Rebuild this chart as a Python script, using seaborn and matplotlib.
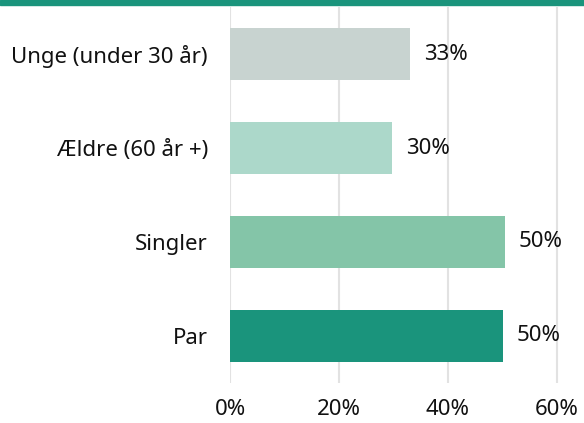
import pandas as pd
import matplotlib.pyplot as plt
import seaborn as sns
from matplotlib.patches import Rectangle

plt.switch_backend("Agg")

categories = ["Unge (under 30 år)", "Ældre (60 år +)", "Singler", "Par"]
values = [33.0, 29.7, 50.4, 50.1]
labels = ["33%", "30%", "50%", "50%"]
colors = ["#c8d3d0", "#acd8ca", "#84c5a8", "#1a947c"]
xticks = [0, 20, 40, 60]
xticklabels = ["0%", "20%", "40%", "60%"]

df = pd.DataFrame({"group": categories, "share": values})

sns.set_style("white")
plt.rcParams["font.family"] = ["Noto Sans", "DejaVu Sans"]

fig = plt.figure(figsize=(5.84, 4.23), dpi=100)
ax = fig.add_axes([0.394, 0.095, 0.606, 0.888])

sns.barplot(data=df, x="share", y="group", hue="group", palette=colors,
            legend=False, width=0.55, ax=ax, saturation=1, linewidth=0)

for cont, lab in zip(ax.containers, labels):
    ax.bar_label(cont, labels=[lab], padding=10, fontsize=16, color="#111111")

ax.set_xlim(0, 65)
ax.set_ylim(3.5, -0.5)
ax.set_xticks(xticks)
ax.set_xticklabels(xticklabels)
ax.xaxis.grid(True, color="#e2e2e2", linewidth=1.5)
ax.set_axisbelow(True)
for s in ax.spines.values():
    s.set_visible(False)
ax.tick_params(axis="x", length=0, pad=12, labelsize=16, labelcolor="#111111")
ax.tick_params(axis="y", length=0, pad=16, labelsize=16, labelcolor="#111111")
ax.set_xlabel("")
ax.set_ylabel("")

fig.patches.append(Rectangle((0, 1 - 5 / 423), 1, 5 / 423, transform=fig.transFigure,
                             color="#1a947c", zorder=10))

fig.savefig("out.png", dpi=100)
